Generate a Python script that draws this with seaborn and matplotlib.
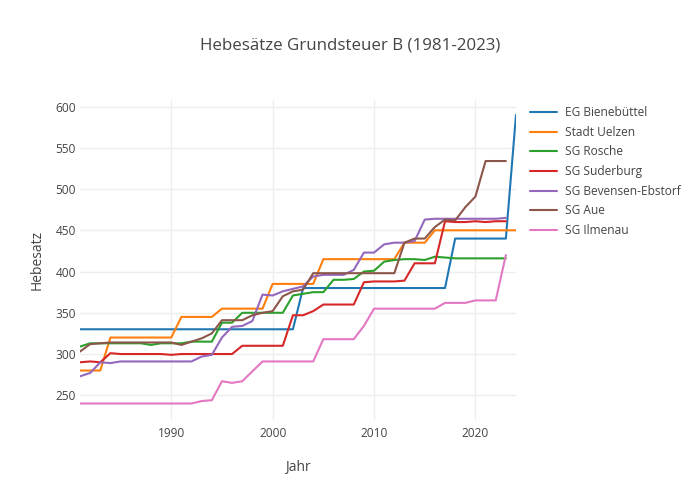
import matplotlib
matplotlib.use('Agg')
import matplotlib.pyplot as plt
import numpy as np
import pandas as pd
import seaborn as sns

# Jahre 1981-2024
years = list(range(1981, 2025))

# Hebesätze je Gemeinde (NaN = kein Wert für 2024)
nan = np.nan
bienebuettel = [330, 330, 330, 330, 330, 330, 330, 330, 330, 330, 330,
                330, 330, 330, 330, 330, 330, 330, 330, 330, 330, 330,
                380, 380, 380, 380, 380, 380, 380, 380, 380, 380, 380,
                380, 380, 380, 380, 440, 440, 440, 440, 440, 440, 590]
uelzen = [280, 280, 280, 320, 320, 320, 320, 320, 320, 320, 345,
          345, 345, 345, 355, 355, 355, 355, 355, 385, 385, 385,
          385, 385, 415, 415, 415, 415, 415, 415, 415, 415, 435,
          435, 435, 450, 450, 450, 450, 450, 450, 450, 450, 450]
rosche = [309, 313, 313, 313, 313, 313, 313, 311, 313, 313, 313,
          315, 315, 315, 338, 338, 350, 350, 350, 350, 350, 371,
          373, 375, 375, 390, 390, 391, 400, 401, 412, 414, 415,
          415, 414, 418, 417, 416, 416, 416, 416, 416, 416, nan]
suderburg = [290, 291, 290, 301, 300, 300, 300, 300, 300, 299, 300,
             300, 300, 300, 300, 300, 310, 310, 310, 310, 310, 347,
             347, 352, 360, 360, 360, 360, 387, 388, 388, 388, 389,
             410, 410, 410, 461, 460, 460, 461, 460, 461, 461, nan]
bevensen = [273, 277, 290, 289, 291, 291, 291, 291, 291, 291, 291,
            291, 297, 299, 320, 333, 334, 340, 372, 371, 376, 379,
            382, 394, 396, 396, 396, 402, 423, 423, 433, 435, 435,
            437, 463, 464, 464, 464, 464, 464, 464, 464, 465, nan]
aue = [303, 312, 313, 314, 314, 314, 314, 314, 314, 314, 311,
       315, 319, 325, 341, 341, 341, 347, 350, 352, 370, 376,
       378, 398, 398, 398, 398, 398, 398, 398, 398, 398, 435,
       440, 440, 454, 463, 462, 478, 491, 534, 534, 534, nan]
ilmenau = [240, 240, 240, 240, 240, 240, 240, 240, 240, 240, 240,
           240, 243, 244, 267, 265, 267, 279, 291, 291, 291, 291,
           291, 291, 318, 318, 318, 318, 334, 355, 355, 355, 355,
           355, 355, 355, 362, 362, 362, 365, 365, 365, 420, nan]

names = ['EG Bienebüttel', 'Stadt Uelzen', 'SG Rosche', 'SG Suderburg',
         'SG Bevensen-Ebstorf', 'SG Aue', 'SG Ilmenau']
series = [bienebuettel, uelzen, rosche, suderburg, bevensen, aue, ilmenau]
colors = ['#1f77b4', '#ff7f0e', '#2ca02c', '#d62728', '#9467bd', '#8c564b', '#e377c2']

# Long-Format für seaborn
frames = [pd.DataFrame({'Jahr': years, 'Hebesatz': vals, 'Gemeinde': name})
          for name, vals in zip(names, series)]
df = pd.concat(frames, ignore_index=True).dropna()

sns.set_style('white')
plt.rcParams['font.family'] = ['Open Sans', 'DejaVu Sans']
text_color = '#444444'

fig = plt.figure(figsize=(7, 5), dpi=100)
ax = fig.add_axes([80 / 700, 80 / 500, 436 / 700, 320 / 500])

sns.lineplot(data=df, x='Jahr', y='Hebesatz', hue='Gemeinde', hue_order=names,
             palette=colors, linewidth=1.5, estimator=None, errorbar=None,
             sort=True, ax=ax)

ax.set_xlim(1981, 2024)
ax.set_ylim(220, 608)
ax.set_xticks([1990, 2000, 2010, 2020])
ax.set_yticks([250, 300, 350, 400, 450, 500, 550, 600])
ax.grid(True, color='#eeeeee', linewidth=1)
ax.set_axisbelow(True)
for s in ax.spines.values():
    s.set_visible(False)
ax.tick_params(axis='both', length=0, labelsize=8.6, labelcolor=text_color)
ax.tick_params(axis='x', pad=5)
ax.tick_params(axis='y', pad=3)

ax.set_xlabel('Jahr', fontsize=10, color=text_color)
ax.set_ylabel('Hebesatz', fontsize=10, color=text_color)
ax.xaxis.set_label_coords(0.5, -(467 - 420) / 320)
ax.xaxis.label.set_va('center')
ax.yaxis.set_label_coords((37 - 80) / 436, 0.5)
ax.yaxis.label.set_va('center')

fig.text(0.5, 1 - 45 / 500, 'Hebesätze Grundsteuer B (1981-2023)',
         ha='center', va='center', fontsize=12.2, color=text_color)

sns.move_legend(ax, 'upper left', bbox_to_anchor=((530 - 80) / 436, (420 - 106) / 320),
                frameon=False, title=None, borderaxespad=0, borderpad=0,
                handlelength=2.25, handletextpad=0.65, labelspacing=0.56,
                fontsize=8.6)
for t in ax.get_legend().get_texts():
    t.set_color(text_color)

plt.savefig('out.png', dpi=100)
plt.close()
